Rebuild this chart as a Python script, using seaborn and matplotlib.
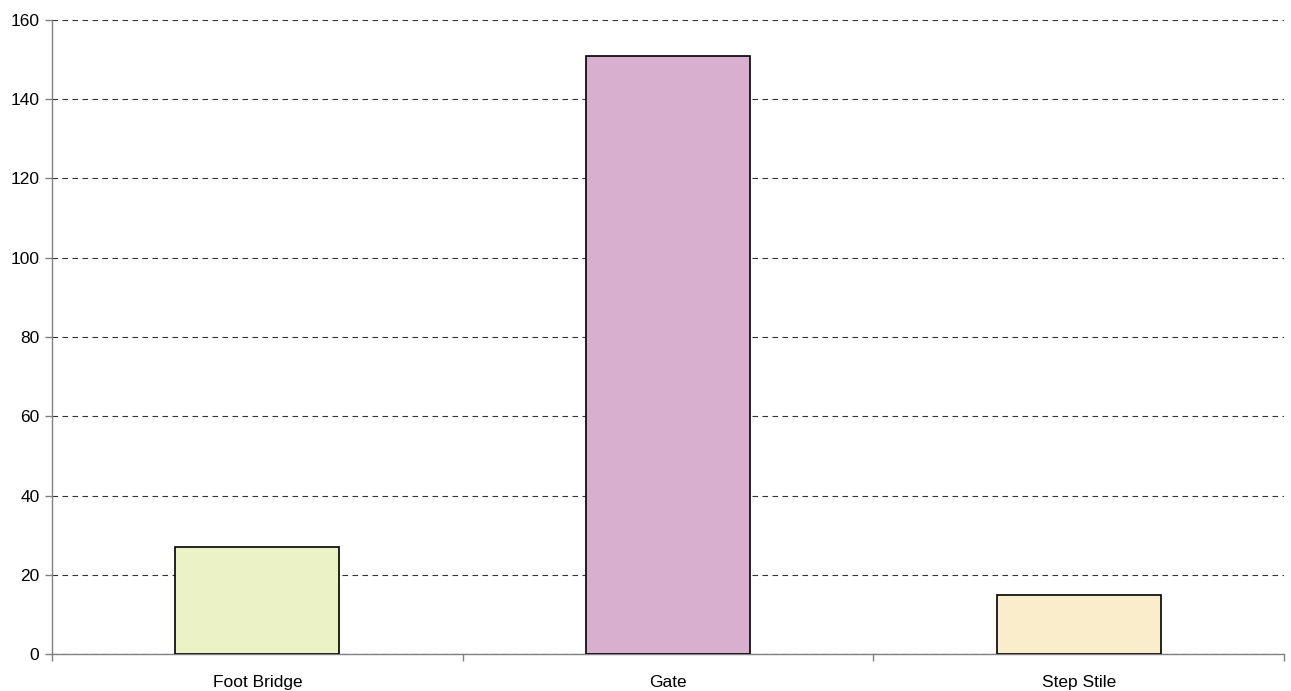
import matplotlib
matplotlib.use("Agg")
import matplotlib.pyplot as plt
import seaborn as sns
import pandas as pd
from matplotlib.ticker import FixedLocator

categories = ["Foot Bridge", "Gate", "Step Stile"]
counts = [27, 151, 15]
bar_colors = ["#EAF2C6", "#D9AFD0", "#FAEDCB"]
y_ticks = [0, 20, 40, 60, 80, 100, 120, 140, 160]

sns.set_style("white", {"xtick.bottom": True, "ytick.left": True})
plt.rcParams["font.family"] = ["Liberation Sans", "DejaVu Sans"]

df = pd.DataFrame({"category": categories, "count": counts})

fig = plt.figure(figsize=(12.91, 6.91), dpi=100)
ax = fig.add_axes([52 / 1291, 1 - 654 / 691, (1284 - 52) / 1291, (654 - 20) / 691])

sns.barplot(data=df, x="category", y="count", hue="category", palette=bar_colors,
            saturation=1, legend=False, width=0.4, edgecolor="black", linewidth=1.2,
            ax=ax, zorder=3)

ax.set_xlim(-0.5, len(categories) - 0.5)
ax.set_ylim(0, 160)
ax.set_yticks(y_ticks)
ax.yaxis.grid(True, linestyle=(0, (5, 4)), color="#333333", linewidth=0.8, zorder=0)
ax.xaxis.grid(False)

ax.set_xlabel("")
ax.set_ylabel("")

for side in ("top", "right"):
    ax.spines[side].set_visible(False)
for side in ("left", "bottom"):
    ax.spines[side].set_color("#808080")
    ax.spines[side].set_linewidth(1.0)

# category boundaries carry the x tick marks, labels sit at category centres
ax.xaxis.set_minor_locator(FixedLocator([i - 0.5 for i in range(len(categories) + 1)]))
ax.tick_params(axis="x", which="major", bottom=True, length=0, pad=15, labelsize=12.5,
               labelcolor="black")
ax.tick_params(axis="x", which="minor", bottom=True, length=5, direction="out",
               color="#808080", width=1)
ax.tick_params(axis="y", which="major", left=True, length=5, direction="out",
               color="#808080", width=1, labelsize=12.5, pad=4, labelcolor="black")

fig.savefig("out.png", dpi=100, facecolor="white")
